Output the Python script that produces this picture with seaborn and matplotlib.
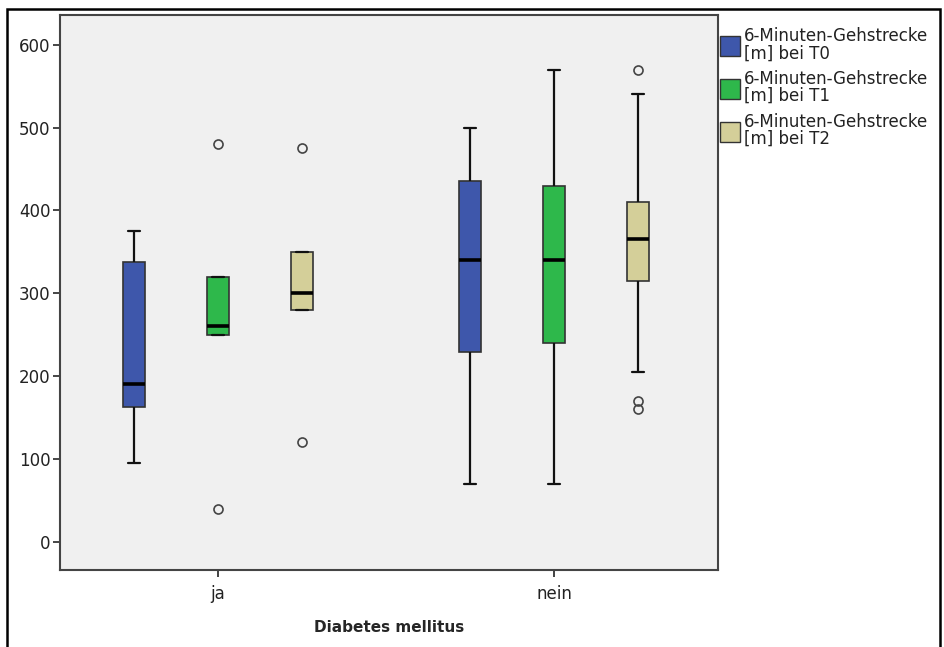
import matplotlib
matplotlib.use("Agg")
import matplotlib.pyplot as plt
import matplotlib.patches as mpatches
import seaborn as sns
import pandas as pd
import numpy as np

# ---- data ----
categories = ["ja", "nein"]
series = ["6-Minuten-Gehstrecke\n[m] bei T0",
          "6-Minuten-Gehstrecke\n[m] bei T1",
          "6-Minuten-Gehstrecke\n[m] bei T2"]
ja_t0 = [95, 130, 163, 180, 191, 250, 338, 360, 375]
ja_t1 = [40, 250, 250, 255, 261, 300, 320, 320, 480]
ja_t2 = [120, 280, 280, 290, 300, 330, 350, 350, 475]
nein_t0 = [70, 150, 229, 300, 340, 400, 435, 470, 500]
nein_t1 = [70, 160, 240, 300, 340, 400, 430, 500, 570]
nein_t2 = [160, 170, 205, 315, 330, 350, 366, 380, 400, 410, 480, 541, 570]
colors = ["#3E57AB", "#2EB84B", "#D4CF99"]
yticks = [0, 100, 200, 300, 400, 500, 600]

groups = {("ja", 0): ja_t0, ("ja", 1): ja_t1, ("ja", 2): ja_t2,
          ("nein", 0): nein_t0, ("nein", 1): nein_t1, ("nein", 2): nein_t2}
rows = []
for (cat, si), vals in groups.items():
    for v in vals:
        rows.append({"Diabetes mellitus": cat, "Serie": series[si], "Wert": v})
df = pd.DataFrame(rows)

sns.set_style("white")
plt.rcParams['font.family'] = ['DejaVu Sans']

fig = plt.figure(figsize=(9.45, 6.47), dpi=100)
ax = fig.add_axes([60 / 945, 1 - 570 / 647, (718 - 60) / 945, (570 - 15) / 647])
ax.set_facecolor("#F0F0F0")

sns.boxplot(data=df, x="Diabetes mellitus", y="Wert", hue="Serie",
            order=categories, hue_order=series, palette=colors,
            width=0.75, gap=0.73, whis=1.5, saturation=1, ax=ax,
            linecolor="#333333", linewidth=1.2,
            medianprops=dict(color="black", linewidth=2.6),
            whiskerprops=dict(color="#111111", linewidth=1.6),
            capprops=dict(color="#111111", linewidth=1.6),
            flierprops=dict(marker="o", markerfacecolor="none",
                            markeredgecolor="#444444", markersize=6.5,
                            markeredgewidth=1.2))

ax.set_xlim(-0.47, 1.488)
ax.set_ylim(-34, 636)
ax.set_yticks(yticks)
ax.set_yticklabels([str(t) for t in yticks], fontsize=12, color="#222222")
ax.tick_params(axis="x", labelsize=12, colors="#222222", length=5, width=1.2,
               direction="out", bottom=True, pad=6)
ax.tick_params(axis="y", length=5, width=1.2, direction="out", left=True, pad=2)
ax.set_ylabel("")
ax.set_xlabel("Diabetes mellitus", fontsize=11, fontweight="bold", labelpad=12)
for sp in ax.spines.values():
    sp.set_color("#444444")
    sp.set_linewidth(1.5)

# legend
if ax.legend_:
    ax.legend_.remove()
handles = [mpatches.Patch(facecolor=c, edgecolor="#333333", linewidth=1.0) for c in colors]
leg = ax.legend(handles, series, loc="upper left", bbox_to_anchor=(1.0, 0.983),
                frameon=False, fontsize=12, borderaxespad=0.05, borderpad=0.1,
                handlelength=1.15, handleheight=1.5, handletextpad=0.25,
                labelspacing=0.45)
for t in leg.get_texts():
    t.set_linespacing(0.95)
    t.set_color("#222222")

# outer frame
fig.patches.append(mpatches.Rectangle((7 / 945, -0.02), (940 - 7) / 945, 1 - 9 / 647 + 0.02,
                                      transform=fig.transFigure, fill=False,
                                      edgecolor="black", linewidth=1.8))

fig.savefig("out.png", dpi=100)
